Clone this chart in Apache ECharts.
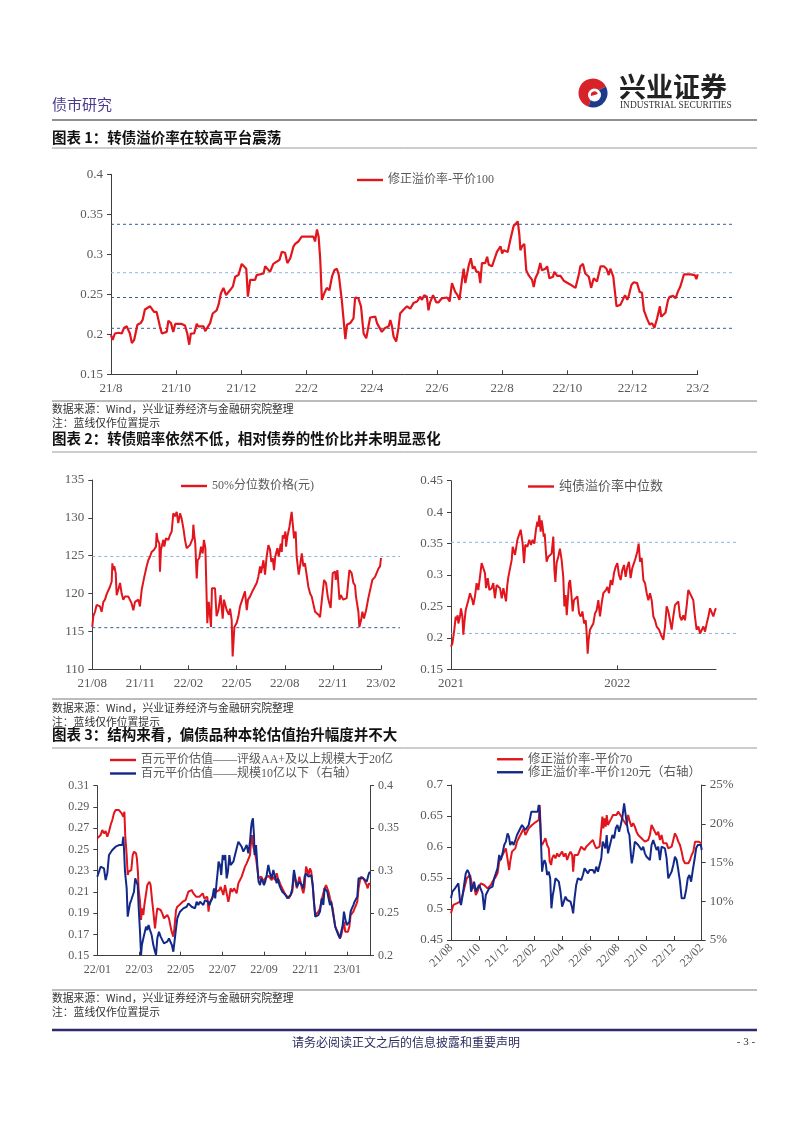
<!DOCTYPE html>
<html><head><meta charset="utf-8">
<script src="https://cdn.jsdelivr.net/npm/echarts@6/dist/echarts.min.js"></script>
<style>html,body{margin:0;padding:0;background:#fff}#page{width:802px;height:1133px}</style>
</head><body><div id="page"></div>
<script>
// ---------------- DATA ----------------
// x = months since first tick label, y = value
const c1XLabels = ['21/8','21/10','21/12','22/2','22/4','22/6','22/8','22/10','22/12','23/2'];
const c1Name = '修正溢价率-平价100';
const c1RefLevels = [0.3375, 0.277, 0.246, 0.2075];
const c1Premium100 = [[0.00,0.199],[0.05,0.193],[0.12,0.201],[0.23,0.202],[0.33,0.201],[0.40,0.208],[0.48,0.210],[0.58,0.201],[0.64,0.189],[0.71,0.193],[0.81,0.212],[0.91,0.214],[0.97,0.218],[1.04,0.231],[1.20,0.235],[1.25,0.235],[1.32,0.228],[1.40,0.228],[1.50,0.210],[1.56,0.201],[1.71,0.203],[1.76,0.217],[1.84,0.214],[1.91,0.203],[1.97,0.213],[2.17,0.213],[2.27,0.211],[2.34,0.201],[2.40,0.187],[2.45,0.201],[2.55,0.201],[2.63,0.213],[2.68,0.210],[2.84,0.210],[2.89,0.204],[2.94,0.205],[3.04,0.214],[3.12,0.226],[3.24,0.230],[3.30,0.237],[3.37,0.251],[3.45,0.258],[3.53,0.249],[3.65,0.255],[3.74,0.260],[3.81,0.272],[3.91,0.274],[3.96,0.274],[4.01,0.288],[4.15,0.282],[4.20,0.247],[4.27,0.268],[4.32,0.270],[4.42,0.268],[4.47,0.274],[4.52,0.272],[4.68,0.276],[4.73,0.285],[4.88,0.278],[4.98,0.288],[5.17,0.293],[5.24,0.303],[5.34,0.302],[5.41,0.289],[5.50,0.295],[5.60,0.310],[5.65,0.313],[5.75,0.316],[5.85,0.322],[6.21,0.322],[6.26,0.316],[6.32,0.331],[6.37,0.322],[6.42,0.293],[6.47,0.243],[6.54,0.251],[6.62,0.258],[6.70,0.255],[6.78,0.272],[6.85,0.280],[6.93,0.282],[6.99,0.274],[7.08,0.243],[7.19,0.194],[7.24,0.212],[7.34,0.214],[7.44,0.220],[7.49,0.246],[7.59,0.245],[7.67,0.235],[7.75,0.201],[7.83,0.195],[7.90,0.210],[7.95,0.221],[8.11,0.222],[8.16,0.214],[8.31,0.203],[8.41,0.208],[8.52,0.210],[8.57,0.218],[8.62,0.210],[8.67,0.197],[8.75,0.191],[8.82,0.208],[8.87,0.226],[8.98,0.231],[9.08,0.235],[9.18,0.232],[9.28,0.239],[9.39,0.241],[9.49,0.247],[9.54,0.243],[9.61,0.249],[9.69,0.247],[9.74,0.230],[9.79,0.240],[9.88,0.249],[9.98,0.240],[10.05,0.240],[10.15,0.245],[10.31,0.246],[10.39,0.241],[10.46,0.264],[10.56,0.253],[10.63,0.249],[10.69,0.243],[10.77,0.268],[10.82,0.282],[10.87,0.264],[10.98,0.287],[11.04,0.295],[11.10,0.282],[11.15,0.285],[11.21,0.278],[11.28,0.278],[11.33,0.264],[11.38,0.289],[11.48,0.289],[11.54,0.297],[11.59,0.287],[11.69,0.285],[11.74,0.291],[11.84,0.303],[11.95,0.310],[12.00,0.301],[12.05,0.305],[12.17,0.303],[12.25,0.318],[12.35,0.335],[12.48,0.341],[12.53,0.324],[12.56,0.305],[12.61,0.310],[12.68,0.313],[12.74,0.280],[12.81,0.274],[12.92,0.268],[12.97,0.259],[13.02,0.270],[13.09,0.276],[13.17,0.289],[13.22,0.280],[13.33,0.282],[13.38,0.285],[13.45,0.270],[13.56,0.272],[13.60,0.278],[13.69,0.273],[13.79,0.273],[13.89,0.267],[14.10,0.262],[14.25,0.258],[14.35,0.274],[14.40,0.285],[14.48,0.288],[14.55,0.276],[14.66,0.272],[14.73,0.258],[14.81,0.270],[14.91,0.266],[15.02,0.285],[15.12,0.285],[15.20,0.282],[15.27,0.274],[15.32,0.282],[15.41,0.272],[15.51,0.235],[15.63,0.237],[15.68,0.239],[15.77,0.249],[15.84,0.243],[15.89,0.249],[15.97,0.262],[16.04,0.265],[16.14,0.264],[16.22,0.253],[16.29,0.252],[16.35,0.230],[16.45,0.219],[16.53,0.212],[16.60,0.214],[16.67,0.208],[16.75,0.219],[16.84,0.235],[16.88,0.222],[17.01,0.227],[17.09,0.243],[17.14,0.247],[17.25,0.248],[17.32,0.245],[17.39,0.253],[17.47,0.260],[17.58,0.275],[17.78,0.275],[17.91,0.274],[17.96,0.269],[18.00,0.275]];

const c2aXLabels = ['21/08','21/11','22/02','22/05','22/08','22/11','23/02'];
const c2aName = '50%分位数价格(元)';
const c2aRefLevels = [124.9, 115.5];
const c2aPrice = [[0.00,115.6],[0.06,117.0],[0.17,117.6],[0.27,118.5],[0.37,118.7],[0.48,118.3],[0.58,117.6],[0.69,118.9],[0.79,119.2],[0.89,119.9],[1.00,120.0],[1.10,120.9],[1.21,121.6],[1.25,124.0],[1.31,123.1],[1.37,123.6],[1.46,122.7],[1.52,119.8],[1.62,120.5],[1.73,121.4],[1.83,120.0],[1.93,119.2],[2.04,119.6],[2.25,119.6],[2.35,119.8],[2.45,118.7],[2.56,117.8],[2.66,118.9],[2.87,119.2],[2.97,118.3],[3.08,120.5],[3.24,122.2],[3.39,123.6],[3.49,124.4],[3.60,124.9],[3.70,125.5],[3.85,125.8],[3.97,126.2],[4.01,128.0],[4.07,127.1],[4.18,126.6],[4.22,122.9],[4.28,125.8],[4.43,127.1],[4.49,126.2],[4.59,127.3],[4.74,127.1],[4.84,127.7],[4.95,128.2],[5.05,130.6],[5.16,130.2],[5.26,130.8],[5.36,129.3],[5.47,130.6],[5.57,129.9],[5.68,128.6],[5.78,127.1],[5.88,126.0],[6.09,126.4],[6.26,127.3],[6.30,129.1],[6.36,127.7],[6.42,126.6],[6.51,122.0],[6.57,124.4],[6.67,124.7],[6.78,126.2],[6.88,125.3],[6.96,127.1],[7.05,126.0],[7.17,116.1],[7.26,118.9],[7.40,115.6],[7.46,120.7],[7.65,120.7],[7.75,117.0],[7.86,117.8],[8.00,119.8],[8.13,116.7],[8.21,119.2],[8.38,117.8],[8.52,117.2],[8.59,118.0],[8.69,116.5],[8.75,111.7],[8.86,115.6],[9.00,116.1],[9.11,117.0],[9.21,118.3],[9.38,119.4],[9.48,119.6],[9.52,120.3],[9.63,117.8],[9.71,119.2],[9.83,119.6],[9.98,120.3],[10.08,120.7],[10.25,121.4],[10.35,122.2],[10.46,123.6],[10.52,122.7],[10.67,124.4],[10.77,122.5],[10.87,124.9],[10.98,126.4],[11.08,125.8],[11.16,124.2],[11.25,124.7],[11.33,123.1],[11.41,124.9],[11.54,126.0],[11.62,124.9],[11.75,126.6],[11.81,125.5],[11.87,127.7],[11.95,127.3],[12.04,128.2],[12.08,126.2],[12.16,127.5],[12.29,128.8],[12.43,130.8],[12.58,127.3],[12.68,128.2],[12.74,124.9],[12.87,122.5],[12.95,123.6],[13.06,125.3],[13.16,123.6],[13.26,124.0],[13.47,120.9],[13.58,120.0],[13.68,119.6],[13.89,117.6],[14.10,117.2],[14.20,116.9],[14.37,120.3],[14.45,121.8],[14.57,121.4],[14.68,119.6],[14.78,118.7],[14.86,118.1],[14.99,122.7],[15.14,122.9],[15.18,121.8],[15.28,123.1],[15.36,122.9],[15.41,119.2],[15.49,119.8],[15.65,119.2],[15.86,119.4],[15.97,121.8],[16.03,123.1],[16.17,122.7],[16.28,121.4],[16.38,121.1],[16.44,119.6],[16.59,117.6],[16.65,115.6],[16.76,116.5],[16.84,117.6],[16.94,116.7],[17.07,117.8],[17.21,119.4],[17.32,119.6],[17.46,121.8],[17.63,122.2],[17.84,123.3],[17.94,123.6],[18.00,124.7]];

const c2bXLabels = ['2021','2022'];
const c2bName = '纯债溢价率中位数';
const c2bRefLevels = [0.352, 0.207];
const c2bPureBondPremium = [[0,0.186],[0.10,0.191],[0.17,0.202],[0.24,0.213],[0.34,0.234],[0.41,0.228],[0.48,0.236],[0.53,0.223],[0.65,0.234],[0.72,0.247],[0.82,0.234],[0.89,0.205],[0.96,0.223],[1.06,0.244],[1.13,0.250],[1.25,0.260],[1.37,0.271],[1.44,0.274],[1.54,0.260],[1.61,0.252],[1.73,0.266],[1.85,0.287],[1.97,0.276],[2.09,0.297],[2.21,0.319],[2.33,0.316],[2.45,0.303],[2.53,0.279],[2.65,0.295],[2.77,0.276],[2.93,0.279],[3.05,0.287],[3.17,0.263],[3.29,0.284],[3.42,0.287],[3.54,0.279],[3.66,0.263],[3.78,0.279],[3.90,0.281],[3.97,0.258],[4.06,0.284],[4.14,0.297],[4.26,0.300],[4.38,0.324],[4.45,0.345],[4.55,0.342],[4.62,0.332],[4.69,0.342],[4.79,0.356],[4.91,0.358],[5.03,0.372],[5.17,0.350],[5.27,0.319],[5.36,0.348],[5.51,0.345],[5.65,0.356],[5.77,0.348],[5.89,0.356],[6.01,0.350],[6.13,0.372],[6.23,0.385],[6.30,0.377],[6.37,0.395],[6.47,0.369],[6.54,0.387],[6.61,0.377],[6.69,0.361],[6.76,0.366],[6.83,0.342],[6.90,0.321],[7.02,0.329],[7.14,0.329],[7.26,0.334],[7.38,0.361],[7.46,0.308],[7.53,0.289],[7.62,0.319],[7.74,0.329],[7.86,0.342],[7.98,0.324],[8.10,0.297],[8.18,0.250],[8.27,0.268],[8.35,0.236],[8.42,0.258],[8.51,0.287],[8.59,0.292],[8.68,0.271],[8.78,0.242],[8.87,0.260],[8.99,0.258],[9.12,0.266],[9.24,0.239],[9.36,0.234],[9.48,0.242],[9.60,0.223],[9.72,0.228],[9.79,0.207],[9.86,0.175],[9.93,0.197],[10.03,0.213],[10.15,0.218],[10.27,0.223],[10.39,0.239],[10.51,0.244],[10.63,0.260],[10.75,0.234],[10.87,0.255],[10.99,0.271],[11.09,0.268],[11.18,0.276],[11.28,0.281],[11.40,0.271],[11.52,0.292],[11.64,0.284],[11.76,0.303],[11.88,0.313],[12.00,0.319],[12.12,0.300],[12.24,0.292],[12.36,0.308],[12.48,0.316],[12.60,0.297],[12.72,0.313],[12.84,0.321],[12.96,0.295],[13.08,0.311],[13.20,0.313],[13.32,0.327],[13.44,0.337],[13.54,0.350],[13.64,0.321],[13.76,0.327],[13.88,0.292],[14.00,0.287],[14.12,0.271],[14.24,0.260],[14.36,0.271],[14.48,0.260],[14.60,0.234],[14.72,0.228],[14.84,0.218],[15.01,0.213],[15.15,0.205],[15.32,0.197],[15.44,0.218],[15.56,0.250],[15.68,0.242],[15.80,0.228],[15.92,0.213],[16.04,0.234],[16.16,0.252],[16.28,0.250],[16.40,0.258],[16.52,0.234],[16.64,0.228],[16.76,0.236],[16.88,0.228],[17.00,0.250],[17.12,0.276],[17.24,0.271],[17.36,0.271],[17.48,0.260],[17.60,0.234],[17.72,0.213],[17.85,0.218],[17.97,0.207],[18.09,0.210],[18.21,0.218],[18.33,0.210],[18.45,0.223],[18.57,0.234],[18.69,0.247],[18.81,0.244],[18.93,0.234],[19.05,0.244],[19.12,0.247]];
const c2bLastMonth = 19.12;

const c3aXLabels = ['22/01','22/03','22/05','22/07','22/09','22/11','23/01'];
const c3aNameHigh = '百元平价估值——评级AA+及以上规模大于20亿';
const c3aNameLow = '百元平价估值——规模10亿以下（右轴）';
const c3aLastMonth = 13.09;
const c3aHighRated = [[0,0.2604],[0.08,0.2589],[0.16,0.2636],[0.24,0.2683],[0.32,0.2651],[0.40,0.2673],[0.48,0.2620],[0.56,0.2667],[0.64,0.2730],[0.72,0.2777],[0.80,0.2840],[0.88,0.2871],[0.96,0.2871],[1.04,0.2871],[1.12,0.2855],[1.17,0.2840],[1.22,0.2840],[1.25,0.2808],[1.30,0.2855],[1.34,0.2636],[1.41,0.2447],[1.46,0.2259],[1.50,0.2291],[1.57,0.2291],[1.63,0.2306],[1.70,0.2447],[1.76,0.2479],[1.86,0.2463],[1.90,0.2416],[1.95,0.2291],[1.98,0.2134],[2.05,0.2008],[2.10,0.1836],[2.14,0.1945],[2.21,0.1883],[2.26,0.1977],[2.34,0.1977],[2.40,0.2165],[2.50,0.2196],[2.56,0.2165],[2.62,0.2040],[2.69,0.1914],[2.77,0.1757],[2.82,0.1851],[2.88,0.1945],[2.96,0.1945],[3.04,0.1930],[3.12,0.1898],[3.20,0.1851],[3.28,0.1851],[3.36,0.1883],[3.44,0.1851],[3.52,0.1773],[3.57,0.1726],[3.65,0.1679],[3.70,0.1757],[3.78,0.1930],[3.84,0.1961],[3.94,0.1977],[4.02,0.1967],[4.10,0.2008],[4.16,0.2008],[4.24,0.2024],[4.32,0.2008],[4.37,0.2102],[4.45,0.2102],[4.53,0.2118],[4.61,0.2087],[4.66,0.2087],[4.74,0.2055],[4.82,0.2071],[4.90,0.2055],[4.98,0.2040],[5.06,0.2087],[5.14,0.2040],[5.22,0.2024],[5.28,0.2055],[5.34,0.1914],[5.38,0.1993],[5.46,0.2024],[5.54,0.2055],[5.62,0.2040],[5.70,0.2102],[5.78,0.2102],[5.86,0.2118],[5.92,0.2149],[5.98,0.2134],[6.05,0.2071],[6.13,0.2165],[6.21,0.2087],[6.29,0.2008],[6.34,0.2055],[6.40,0.2134],[6.48,0.2102],[6.56,0.2134],[6.62,0.2118],[6.69,0.2087],[6.77,0.2181],[6.85,0.2212],[6.93,0.2244],[7.01,0.2259],[7.09,0.2338],[7.17,0.2369],[7.25,0.2369],[7.33,0.2447],[7.38,0.2573],[7.42,0.2636],[7.49,0.2526],[7.55,0.2479],[7.62,0.2416],[7.68,0.2322],[7.74,0.2228],[7.81,0.2212],[7.87,0.2244],[7.94,0.2228],[8.00,0.2196],[8.06,0.2228],[8.13,0.2244],[8.21,0.2253],[8.29,0.2244],[8.37,0.2212],[8.45,0.2244],[8.53,0.2212],[8.61,0.2275],[8.67,0.2228],[8.74,0.2196],[8.80,0.2165],[8.88,0.2134],[8.96,0.2102],[9.04,0.2071],[9.12,0.2055],[9.20,0.2040],[9.28,0.2055],[9.36,0.2102],[9.44,0.2275],[9.52,0.2275],[9.58,0.2134],[9.65,0.2134],[9.70,0.2244],[9.76,0.2196],[9.82,0.2134],[9.89,0.2087],[9.95,0.2149],[10.02,0.2338],[10.08,0.2306],[10.14,0.2259],[10.21,0.2322],[10.27,0.2291],[10.34,0.2165],[10.40,0.2008],[10.46,0.1883],[10.53,0.1883],[10.61,0.1914],[10.69,0.1945],[10.77,0.2024],[10.85,0.2008],[10.91,0.2134],[10.98,0.2165],[11.04,0.2134],[11.10,0.2102],[11.17,0.2040],[11.23,0.2055],[11.30,0.1945],[11.36,0.1851],[11.42,0.1773],[11.49,0.1742],[11.57,0.1710],[11.65,0.1663],[11.71,0.1694],[11.78,0.1757],[11.84,0.1820],[11.90,0.1726],[11.97,0.1710],[12.03,0.1726],[12.10,0.1773],[12.16,0.1883],[12.22,0.1883],[12.29,0.1914],[12.35,0.1945],[12.42,0.1977],[12.48,0.2008],[12.54,0.2134],[12.61,0.2212],[12.67,0.2244],[12.77,0.2228],[12.86,0.2212],[12.93,0.2165],[12.98,0.2134],[13.04,0.2181],[13.09,0.2165]];
const c3aSmallSize = [[0,0.2929],[0.08,0.2988],[0.16,0.3047],[0.24,0.3047],[0.32,0.3027],[0.40,0.2890],[0.48,0.2969],[0.56,0.3184],[0.64,0.3204],[0.72,0.3243],[0.80,0.3224],[0.88,0.3282],[0.96,0.3294],[1.04,0.3302],[1.12,0.3294],[1.20,0.3302],[1.25,0.3400],[1.28,0.3263],[1.33,0.2988],[1.41,0.2792],[1.46,0.2459],[1.50,0.2518],[1.57,0.2616],[1.63,0.2655],[1.70,0.2635],[1.76,0.2753],[1.82,0.2910],[1.89,0.2929],[1.94,0.2831],[1.98,0.2596],[2.05,0.2282],[2.10,0.2008],[2.14,0.2125],[2.21,0.2204],[2.27,0.2184],[2.34,0.2341],[2.40,0.2302],[2.46,0.2361],[2.53,0.2302],[2.61,0.2243],[2.69,0.2125],[2.77,0.2047],[2.82,0.2008],[2.88,0.2204],[2.96,0.2282],[3.04,0.2224],[3.12,0.2204],[3.20,0.2145],[3.28,0.2125],[3.36,0.2165],[3.44,0.2204],[3.52,0.2204],[3.58,0.2125],[3.65,0.2047],[3.71,0.2027],[3.78,0.2322],[3.84,0.2439],[3.90,0.2478],[3.97,0.2518],[4.05,0.2498],[4.13,0.2557],[4.21,0.2537],[4.29,0.2576],[4.37,0.2616],[4.45,0.2635],[4.53,0.2576],[4.61,0.2576],[4.69,0.2557],[4.77,0.2635],[4.85,0.2596],[4.93,0.2635],[5.01,0.2616],[5.09,0.2596],[5.17,0.2655],[5.25,0.2655],[5.31,0.2635],[5.38,0.2596],[5.44,0.2635],[5.52,0.2675],[5.60,0.2792],[5.66,0.2675],[5.73,0.2871],[5.78,0.2988],[5.82,0.3106],[5.89,0.3067],[5.95,0.2949],[6.02,0.3184],[6.08,0.3125],[6.14,0.3184],[6.21,0.2910],[6.27,0.2988],[6.34,0.3184],[6.40,0.3067],[6.46,0.3086],[6.53,0.3106],[6.61,0.3184],[6.69,0.3263],[6.77,0.3341],[6.85,0.3361],[6.93,0.3282],[7.01,0.3224],[7.09,0.3263],[7.17,0.3302],[7.25,0.3204],[7.33,0.3341],[7.38,0.3498],[7.42,0.3576],[7.47,0.3616],[7.52,0.3420],[7.55,0.3184],[7.62,0.3302],[7.68,0.3067],[7.74,0.2871],[7.81,0.2831],[7.87,0.2910],[7.94,0.2871],[8.00,0.2831],[8.06,0.2871],[8.13,0.2949],[8.21,0.3067],[8.29,0.2969],[8.37,0.2910],[8.45,0.3008],[8.53,0.2929],[8.61,0.2851],[8.67,0.2910],[8.74,0.2831],[8.80,0.2792],[8.88,0.2753],[8.96,0.2733],[9.04,0.2714],[9.12,0.2675],[9.20,0.2675],[9.28,0.2714],[9.36,0.2792],[9.44,0.3008],[9.52,0.2988],[9.58,0.2812],[9.65,0.2831],[9.70,0.2871],[9.76,0.2851],[9.82,0.2831],[9.89,0.2792],[9.95,0.2929],[10.02,0.2969],[10.08,0.2969],[10.14,0.2929],[10.21,0.2910],[10.27,0.2949],[10.34,0.2831],[10.40,0.2635],[10.46,0.2459],[10.53,0.2459],[10.61,0.2478],[10.69,0.2518],[10.77,0.2675],[10.85,0.2596],[10.91,0.2792],[10.98,0.2812],[11.04,0.2753],[11.10,0.2675],[11.17,0.2596],[11.23,0.2635],[11.30,0.2518],[11.36,0.2439],[11.42,0.2341],[11.49,0.2322],[11.57,0.2243],[11.65,0.2204],[11.71,0.2282],[11.78,0.2361],[11.84,0.2518],[11.90,0.2439],[11.97,0.2361],[12.03,0.2341],[12.10,0.2400],[12.16,0.2518],[12.22,0.2557],[12.29,0.2596],[12.35,0.2635],[12.42,0.2635],[12.48,0.2694],[12.54,0.2910],[12.61,0.2910],[12.67,0.2910],[12.77,0.2910],[12.86,0.2910],[12.93,0.2871],[12.98,0.2890],[13.04,0.2969],[13.09,0.2988]];

const c3bXLabels = ['21/08','21/10','21/12','22/02','22/04','22/06','22/08','22/10','22/12','23/02'];
const c3bName70 = '修正溢价率-平价70';
const c3bName120 = '修正溢价率-平价120元（右轴）';
const c3bPar70 = [[0,0.4930],[0.10,0.5011],[0.17,0.5065],[0.29,0.5038],[0.41,0.5091],[0.53,0.5065],[0.65,0.5118],[0.77,0.5172],[0.89,0.5280],[1.01,0.5387],[1.13,0.5495],[1.25,0.5522],[1.37,0.5548],[1.44,0.5575],[1.56,0.5333],[1.66,0.5387],[1.78,0.5226],[1.90,0.5280],[2.02,0.5360],[2.14,0.5414],[2.26,0.5387],[2.38,0.5387],[2.50,0.5387],[2.62,0.5333],[2.74,0.5306],[2.86,0.5387],[2.98,0.5441],[3.10,0.5468],[3.22,0.5522],[3.34,0.5575],[3.46,0.5763],[3.58,0.5790],[3.70,0.5871],[3.82,0.5925],[3.94,0.5978],[4.06,0.5952],[4.18,0.5629],[4.25,0.5763],[4.38,0.5925],[4.50,0.5925],[4.62,0.5978],[4.74,0.6086],[4.86,0.6140],[4.98,0.6167],[5.10,0.6247],[5.22,0.6301],[5.34,0.6194],[5.46,0.6247],[5.58,0.6301],[5.70,0.6301],[5.82,0.6355],[5.94,0.6382],[6.06,0.6398],[6.18,0.6409],[6.30,0.6435],[6.37,0.6677],[6.47,0.6086],[6.54,0.6032],[6.66,0.6086],[6.78,0.6140],[6.90,0.6032],[7.02,0.5978],[7.09,0.5763],[7.19,0.5710],[7.26,0.5817],[7.38,0.5871],[7.50,0.5817],[7.62,0.5898],[7.74,0.5844],[7.86,0.5817],[7.98,0.5925],[8.10,0.5844],[8.22,0.5898],[8.34,0.5790],[8.46,0.5871],[8.58,0.5925],[8.70,0.5871],[8.77,0.5602],[8.87,0.5871],[8.99,0.5898],[9.11,0.5871],[9.23,0.5898],[9.35,0.6005],[9.47,0.6032],[9.59,0.5952],[9.71,0.6005],[9.83,0.6032],[9.95,0.6059],[10.07,0.6032],[10.19,0.6113],[10.31,0.6032],[10.43,0.5978],[10.55,0.5978],[10.67,0.6005],[10.79,0.5978],[10.87,0.6489],[10.94,0.6301],[11.03,0.6462],[11.11,0.6328],[11.18,0.6516],[11.27,0.6355],[11.39,0.6409],[11.51,0.6462],[11.63,0.6516],[11.75,0.6543],[11.88,0.6516],[12.00,0.6570],[12.12,0.6543],[12.24,0.6489],[12.36,0.6435],[12.48,0.6409],[12.60,0.6355],[12.72,0.6516],[12.84,0.6409],[12.96,0.6328],[13.08,0.6382],[13.20,0.6328],[13.32,0.6247],[13.44,0.6194],[13.56,0.6167],[13.68,0.6140],[13.80,0.6113],[13.92,0.6086],[14.04,0.6086],[14.16,0.6113],[14.28,0.6194],[14.40,0.6355],[14.52,0.6328],[14.64,0.6247],[14.76,0.6194],[14.88,0.6247],[15.00,0.6113],[15.12,0.6194],[15.24,0.6059],[15.36,0.6032],[15.48,0.6059],[15.60,0.5978],[15.72,0.5952],[15.84,0.6005],[15.96,0.6113],[16.08,0.6220],[16.20,0.6167],[16.32,0.6086],[16.44,0.6032],[16.56,0.5925],[16.68,0.5790],[16.80,0.5737],[16.92,0.5763],[17.04,0.5737],[17.16,0.5790],[17.28,0.5871],[17.40,0.5925],[17.52,0.6086],[17.64,0.6113],[17.76,0.6086],[17.88,0.6113],[18.00,0.6059]];
const c3bPar120 = [[0,0.1038],[0.10,0.1124],[0.17,0.1102],[0.29,0.1167],[0.41,0.1167],[0.53,0.1231],[0.65,0.0995],[0.72,0.0952],[0.82,0.1059],[0.94,0.1210],[1.06,0.1360],[1.18,0.1403],[1.30,0.1360],[1.37,0.1296],[1.44,0.1124],[1.56,0.1188],[1.66,0.1253],[1.78,0.1124],[1.90,0.1167],[2.02,0.1210],[2.14,0.1188],[2.26,0.1102],[2.38,0.0887],[2.50,0.1081],[2.62,0.1102],[2.74,0.1167],[2.86,0.1145],[2.98,0.1188],[3.10,0.1296],[3.22,0.1360],[3.34,0.1425],[3.46,0.1597],[3.58,0.1532],[3.70,0.1618],[3.82,0.1726],[3.94,0.1769],[4.06,0.1876],[4.16,0.1833],[4.25,0.1726],[4.38,0.1769],[4.50,0.1726],[4.62,0.1790],[4.74,0.1855],[4.86,0.1876],[4.98,0.1941],[5.10,0.1984],[5.22,0.1962],[5.34,0.1919],[5.46,0.1919],[5.58,0.1984],[5.70,0.2005],[5.77,0.2156],[5.89,0.2177],[6.01,0.2156],[6.13,0.2177],[6.23,0.2156],[6.30,0.2242],[6.37,0.2156],[6.47,0.1726],[6.54,0.1382],[6.61,0.1468],[6.71,0.1532],[6.80,0.1489],[6.90,0.1339],[7.02,0.1382],[7.12,0.1296],[7.21,0.0909],[7.31,0.1081],[7.38,0.1145],[7.50,0.1296],[7.62,0.1317],[7.74,0.1253],[7.86,0.1124],[7.98,0.0930],[8.10,0.0952],[8.22,0.1059],[8.34,0.1016],[8.46,0.1038],[8.58,0.0995],[8.68,0.0930],[8.77,0.0844],[8.87,0.1038],[8.99,0.1210],[9.11,0.1296],[9.23,0.1317],[9.35,0.1274],[9.47,0.1339],[9.59,0.1425],[9.71,0.1446],[9.83,0.1360],[9.95,0.1403],[10.07,0.1382],[10.19,0.1403],[10.31,0.1360],[10.43,0.1446],[10.55,0.1382],[10.67,0.1468],[10.79,0.1554],[10.89,0.1769],[10.99,0.1726],[11.08,0.1683],[11.18,0.1855],[11.27,0.1618],[11.37,0.1597],[11.47,0.1769],[11.59,0.1855],[11.71,0.1812],[11.83,0.1941],[11.95,0.1984],[12.07,0.1898],[12.19,0.1984],[12.31,0.2091],[12.43,0.2263],[12.55,0.2242],[12.62,0.2005],[12.72,0.1898],[12.81,0.1855],[12.91,0.1618],[12.98,0.1489],[13.08,0.1597],[13.20,0.1769],[13.32,0.1790],[13.44,0.1726],[13.56,0.1704],[13.68,0.1661],[13.80,0.1704],[13.92,0.1618],[14.04,0.1575],[14.16,0.1554],[14.28,0.1532],[14.40,0.1726],[14.52,0.1790],[14.64,0.1726],[14.76,0.1661],[14.88,0.1704],[15.00,0.1532],[15.12,0.1704],[15.24,0.1683],[15.36,0.1683],[15.48,0.1554],[15.60,0.1296],[15.72,0.1317],[15.84,0.1382],[15.96,0.1468],[16.08,0.1575],[16.20,0.1532],[16.32,0.1403],[16.44,0.1253],[16.56,0.1038],[16.66,0.1016],[16.76,0.1038],[16.88,0.1145],[17.00,0.1296],[17.12,0.1339],[17.24,0.1253],[17.36,0.1403],[17.48,0.1532],[17.60,0.1683],[17.72,0.1726],[17.85,0.1726],[17.94,0.1726],[18.00,0.1661]];

// ---------------- STYLE ----------------
const RED = '#E2151D', BLUE = '#13298A';
const REF_DARK = '#3A5A9E', REF_LIGHT = '#8FB3DF';
const AX = '#3f3f3f', LBL = '#595959';
const FF = '"Liberation Serif","Noto Sans CJK SC",serif';
const FC = '"Noto Sans CJK SC","Liberation Serif",sans-serif';

function fmt(labels, step) {
  return function (v) {
    const i = Math.round(v / step);
    return (Math.abs(v - i * step) < 1e-6 && labels[i] !== undefined) ? labels[i] : '';
  };
}
function xAxis(grid, max, step, labels, extra) {
  const ax = {
    type: 'value', gridIndex: grid, min: 0, max: max, interval: step,
    axisLine: { show: true, onZero: false, lineStyle: { color: AX, width: 1 } },
    axisTick: { show: true, inside: true, length: 4, lineStyle: { color: AX } },
    splitLine: { show: false },
    axisLabel: { color: LBL, fontSize: 13, fontFamily: FF, margin: 8, formatter: fmt(labels, step) }
  };
  return Object.assign(ax, extra || {});
}
function yAxis(grid, min, max, step, extra) {
  const ax = {
    type: 'value', gridIndex: grid, min: min, max: max, interval: step,
    axisLine: { show: true, onZero: false, lineStyle: { color: AX, width: 1 } },
    axisTick: { show: true, inside: false, length: 4, lineStyle: { color: AX } },
    splitLine: { show: false },
    axisLabel: { color: LBL, fontSize: 13, fontFamily: FF, margin: 8 }
  };
  return Object.assign(ax, extra || {});
}
function hidden(ax) { ax.show = false; return ax; }
function line(name, data, xi, yi, color, width, z) {
  return { name: name, type: 'line', xAxisIndex: xi, yAxisIndex: yi, data: data, symbol: 'none',
    lineStyle: { color: color, width: width }, itemStyle: { color: color }, z: z || 3, silent: true };
}
function refSeries(levels, colors, xi, yi) {
  return levels.map(function (v, i) {
    return { name: 'ref' + xi + '_' + i, type: 'line', xAxisIndex: xi, yAxisIndex: yi,
      data: [[0, v], [1, v]], symbol: 'none', silent: true, z: 1,
      lineStyle: { color: colors[i], width: 1, type: [3, 3] } };
  });
}
function legend(name, left, top, size) {
  return { data: [name], left: left, top: top, padding: 0, icon: 'rect', itemWidth: 26, itemHeight: 2.4, itemGap: 0,
    selectedMode: false, textStyle: { color: LBL, fontSize: size, fontFamily: FF, padding: [0, 0, 0, 0] } };
}
function txt(t, x, y, font, fill, align) {
  return { type: 'text', x: x, y: y, silent: true,
    style: { text: t, font: font, fill: fill, align: align || 'left', verticalAlign: 'middle' } };
}
function hl(y, color, w, x1, x2) {
  return { type: 'line', silent: true, shape: { x1: x1 || 52, y1: y, x2: x2 || 757, y2: y },
    style: { stroke: color, lineWidth: w } };
}

const srcText = '数据来源：Wind，兴业证券经济与金融研究院整理';
const noteText = '注：蓝线仅作位置提示';

const graphic = [
  // logo
  { type: 'sector', silent: true, shape: { cx: 593, cy: 93, r: 14.5, r0: 0, startAngle: Math.PI * 0.6, endAngle: Math.PI * 1.85 }, style: { fill: '#D8222A' } },
  { type: 'sector', silent: true, shape: { cx: 593, cy: 93, r: 14.5, r0: 0, startAngle: Math.PI * 1.85, endAngle: Math.PI * 2.6 }, style: { fill: '#1E3A8C' } },
  { type: 'circle', silent: true, shape: { cx: 594.5, cy: 95, r: 6.5 }, style: { fill: '#fff' } },
  { type: 'sector', silent: true, shape: { cx: 594.5, cy: 95, r: 3.6, r0: 0, startAngle: Math.PI * 0.9, endAngle: Math.PI * 1.9 }, style: { fill: '#D8222A' } },
  txt('兴业证券', 619, 87, 'bold 27px ' + FC, '#222'),
  txt('INDUSTRIAL SECURITIES', 620, 106, '9.4px "Liberation Serif"', '#333'),
  txt('债市研究', 52, 104, '15px ' + FC, '#4B3A8C'),
  hl(120, '#6b6b6b', 1.5),
  txt('图表 1：转债溢价率在较高平台震荡', 52, 137, 'bold 14.5px ' + FC, '#111'),
  hl(148, '#9a9a9a', 1),
  hl(401, '#7a7a7a', 1.2),
  txt(srcText, 52, 409, '10.8px ' + FC, '#333'),
  txt(noteText, 52, 423, '10.8px ' + FC, '#333'),
  txt('图表 2：转债赔率依然不低，相对债券的性价比并未明显恶化', 52, 438, 'bold 14.5px ' + FC, '#111'),
  hl(452, '#9a9a9a', 1),
  hl(699, '#7a7a7a', 1.2),
  txt(srcText, 52, 708, '10.8px ' + FC, '#333'),
  txt(noteText, 52, 722, '10.8px ' + FC, '#333'),
  txt('图表 3：结构来看，偏债品种本轮估值抬升幅度并不大', 52, 734, 'bold 14.5px ' + FC, '#111'),
  hl(748, '#9a9a9a', 1),
  hl(990, '#7a7a7a', 1.2),
  txt(srcText, 52, 998, '10.8px ' + FC, '#333'),
  txt(noteText, 52, 1012, '10.8px ' + FC, '#333'),
  hl(1030, '#2E2B6B', 2.5),
  txt('请务必阅读正文之后的信息披露和重要声明', 406, 1042, '12px ' + FC, '#2A2A5E', 'center'),
  txt('- 3 -', 746, 1042, '11px "Liberation Serif"', '#333', 'center')
];

const option = {
  animation: false,
  backgroundColor: '#fff',
  graphic: graphic,
  legend: [
    legend(c1Name, 357, 174, 12),
    legend(c2aName, 181, 480, 12),
    legend(c2bName, 528, 480, 13),
    legend(c3aNameHigh, 110, 754, 12),
    legend(c3aNameLow, 110, 767.5, 12),
    legend(c3bName70, 497, 753, 12.5),
    legend(c3bName120, 497, 766, 12.5)
  ],
  grid: [
    { left: 111, top: 174.3, width: 586.7, height: 200, outerBoundsMode: 'none' },
    { left: 92.3, top: 480, width: 288.7, height: 189.3, outerBoundsMode: 'none' },
    { left: 451, top: 480.7, width: 265, height: 188.6, outerBoundsMode: 'none' },
    { left: 97.3, top: 785.7, width: 272.7, height: 170, outerBoundsMode: 'none' },
    { left: 451, top: 785, width: 250.7, height: 155, outerBoundsMode: 'none' },
    { left: 111, top: 174.3, width: 624, height: 200, outerBoundsMode: 'none' },
    { left: 92.3, top: 480, width: 307.7, height: 189.3, outerBoundsMode: 'none' },
    { left: 451, top: 480.7, width: 286, height: 188.6, outerBoundsMode: 'none' }
  ],
  xAxis: [
    xAxis(0, 18, 2, c1XLabels),
    xAxis(1, 18, 3, c2aXLabels),
    xAxis(2, c2bLastMonth, 12, c2bXLabels, {
      axisTick: { show: true, inside: true, length: 4, lineStyle: { color: AX }, customValues: [0, 12] },
      axisLabel: { color: LBL, fontSize: 13, fontFamily: FF, margin: 8, customValues: [0, 12], formatter: fmt(c2bXLabels, 12) }
    }),
    xAxis(3, c3aLastMonth, 2, c3aXLabels, {
      axisTick: { show: true, inside: true, length: 4, lineStyle: { color: AX }, customValues: [0, 2, 4, 6, 8, 10, 12] },
      axisLabel: { color: LBL, fontSize: 12, fontFamily: FF, margin: 8, customValues: [0, 2, 4, 6, 8, 10, 12], formatter: fmt(c3aXLabels, 2) }
    }),
    xAxis(4, 18, 2, c3bXLabels, {
      axisLabel: { color: LBL, fontSize: 12, fontFamily: FF, margin: 6, rotate: 45, formatter: fmt(c3bXLabels, 2) }
    }),
    hidden({ type: 'value', gridIndex: 5, min: 0, max: 1 }),
    hidden({ type: 'value', gridIndex: 6, min: 0, max: 1 }),
    hidden({ type: 'value', gridIndex: 7, min: 0, max: 1 })
  ],
  yAxis: [
    yAxis(0, 0.15, 0.4, 0.05),
    yAxis(1, 110, 135, 5),
    yAxis(2, 0.15, 0.45, 0.05),
    yAxis(3, 0.15, 0.31, 0.02, { axisLabel: { color: LBL, fontSize: 12, fontFamily: FF, margin: 8, formatter: function (v) { return v.toFixed(2); } } }),
    yAxis(3, 0.2, 0.4, 0.05, { position: 'right', axisLabel: { color: LBL, fontSize: 12, fontFamily: FF, margin: 8 } }),
    yAxis(4, 0.45, 0.7, 0.05),
    yAxis(4, 0.05, 0.25, 0.05, { position: 'right', axisLabel: { color: LBL, fontSize: 13, fontFamily: FF, margin: 8, formatter: function (v) { return Math.round(v * 100) + '%'; } } }),
    hidden({ type: 'value', gridIndex: 5, min: 0.15, max: 0.4 }),
    hidden({ type: 'value', gridIndex: 6, min: 110, max: 135 }),
    hidden({ type: 'value', gridIndex: 7, min: 0.15, max: 0.45 })
  ],
  series: [].concat(
    refSeries(c1RefLevels, [REF_DARK, REF_LIGHT, REF_DARK, REF_DARK], 5, 7),
    refSeries(c2aRefLevels, [REF_LIGHT, REF_DARK], 6, 8),
    refSeries(c2bRefLevels, [REF_LIGHT, REF_LIGHT], 7, 9),
    [
      line(c1Name, c1Premium100, 0, 0, RED, 2.2),
      line(c2aName, c2aPrice, 1, 1, RED, 2),
      line(c2bName, c2bPureBondPremium, 2, 2, RED, 2),
      line(c3aNameHigh, c3aHighRated, 3, 3, RED, 2, 3),
      line(c3aNameLow, c3aSmallSize, 3, 4, BLUE, 2, 4),
      line(c3bName70, c3bPar70, 4, 5, RED, 2, 3),
      line(c3bName120, c3bPar120, 4, 6, BLUE, 2, 4)
    ]
  )
};

const chart = echarts.init(document.getElementById('page'), null, { renderer: 'canvas', width: 802, height: 1133 });
chart.setOption(option);
</script>
</body></html>
